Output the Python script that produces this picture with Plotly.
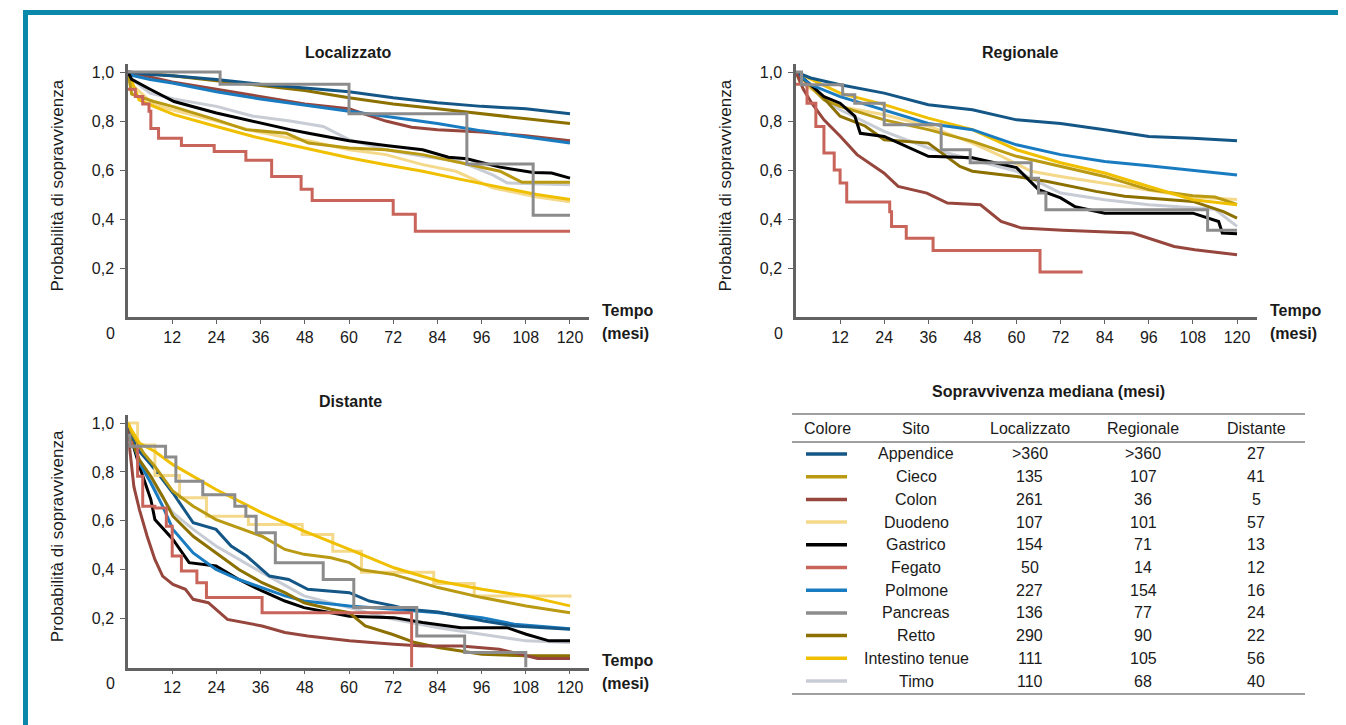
import plotly.graph_objects as go

# Page body adds an 8px margin; figure is sized so it fills the window exactly.
OFF = 8
W, H = 1346 - OFF, 725 - OFF

# ---------------- DATA ----------------
x_tick_vals = [12, 24, 36, 48, 60, 72, 84, 96, 108, 120]
x_tick_labels = ["12", "24", "36", "48", "60", "72", "84", "96", "108", "120"]
y_tick_vals = [0.2, 0.4, 0.6, 0.8, 1.0]
y_tick_labels = ["0,2", "0,4", "0,6", "0,8", "1,0"]

panel_titles = ["Localizzato", "Regionale", "Distante"]

sites = ["Appendice", "Cieco", "Colon", "Duodeno", "Gastrico", "Fegato",
         "Polmone", "Pancreas", "Retto", "Intestino tenue", "Timo"]
median_localizzato = [">360", "135", "261", "107", "154", "50", "227", "136", "290", "111", "110"]
median_regionale = [">360", "107", "36", "101", "71", "14", "154", "77", "90", "105", "68"]
median_distante = ["27", "41", "5", "57", "13", "12", "16", "24", "22", "56", "40"]

# Localizzato
loc_appendice_t = [0, 6, 12, 24, 36, 48, 60, 72, 84, 96, 108, 120]
loc_appendice_s = [1.0, 0.99, 0.985, 0.97, 0.95, 0.935, 0.92, 0.895, 0.875, 0.86, 0.85, 0.83]
loc_cieco_t = [0, 1, 7, 12, 24, 32, 43, 49, 60, 70, 80, 90, 101, 107, 120]
loc_cieco_s = [1.0, 0.91, 0.88, 0.86, 0.805, 0.765, 0.75, 0.71, 0.69, 0.683, 0.663, 0.63, 0.595, 0.55, 0.55]
loc_colon_t = [0, 12, 24, 36, 48, 60, 64, 70, 77, 84, 96, 108, 120]
loc_colon_s = [1.0, 0.96, 0.93, 0.9, 0.87, 0.85, 0.83, 0.80, 0.775, 0.765, 0.755, 0.74, 0.72]
loc_duodeno_t = [0, 1, 7, 12, 24, 34, 44, 49, 60, 70, 80, 89, 99, 111, 120]
loc_duodeno_s = [1.0, 0.95, 0.867, 0.846, 0.80, 0.76, 0.73, 0.72, 0.683, 0.663, 0.622, 0.595, 0.527, 0.49, 0.47]
loc_gastrico_t = [0, 1, 6, 12.5, 24, 32, 44, 49, 60, 70, 80, 87, 92, 101, 110, 115, 120]
loc_gastrico_s = [1.0, 0.97, 0.93, 0.88, 0.833, 0.805, 0.765, 0.75, 0.72, 0.70, 0.683, 0.652, 0.646, 0.612, 0.59, 0.588, 0.567]
loc_fegato_t = [0, 2, 4, 5.7, 6.2, 8.3, 14.5, 23.4, 32, 39, 47, 50, 72, 78, 120]
loc_fegato_s = [0.93, 0.9, 0.87, 0.84, 0.77, 0.73, 0.70, 0.676, 0.64, 0.574, 0.522, 0.476, 0.42, 0.35, 0.35]
loc_polmone_t = [0, 6, 12, 24, 36, 48, 60, 72, 84, 96, 108, 120]
loc_polmone_s = [0.99, 0.97, 0.955, 0.92, 0.89, 0.865, 0.84, 0.815, 0.79, 0.76, 0.735, 0.71]
loc_pancreas_t = [0, 25, 60, 92, 110, 120]
loc_pancreas_s = [1.0, 0.95, 0.83, 0.625, 0.415, 0.415]
loc_retto_t = [0, 12, 24, 36, 48, 60, 72, 84, 96, 108, 120]
loc_retto_s = [1.0, 0.985, 0.965, 0.945, 0.925, 0.895, 0.87, 0.85, 0.83, 0.81, 0.79]
loc_intestino_t = [0, 1, 3, 7, 12.5, 24, 34, 44, 54, 60, 70, 80, 90, 101, 111, 120]
loc_intestino_s = [1.0, 0.96, 0.887, 0.86, 0.826, 0.778, 0.737, 0.703, 0.67, 0.65, 0.622, 0.595, 0.563, 0.53, 0.50, 0.48]
loc_timo_t = [0, 1, 6, 12.5, 24, 34, 44, 53, 60, 70, 80, 90, 99, 103, 120]
loc_timo_s = [1.0, 0.97, 0.914, 0.89, 0.86, 0.82, 0.80, 0.778, 0.724, 0.683, 0.656, 0.635, 0.58, 0.547, 0.54]

# Regionale
reg_appendice_t = [0, 4, 12, 24, 36, 48, 60, 72, 84, 96, 108, 120]
reg_appendice_s = [1.0, 0.976, 0.948, 0.914, 0.867, 0.846, 0.805, 0.79, 0.765, 0.737, 0.73, 0.72]
reg_cieco_t = [0, 7.6, 12, 24, 36, 48, 60, 72, 84, 96, 108, 114, 120]
reg_cieco_s = [1.0, 0.887, 0.86, 0.805, 0.765, 0.717, 0.656, 0.615, 0.574, 0.52, 0.495, 0.49, 0.46]
reg_colon_t = [0, 2, 4.3, 7.6, 12.1, 16.6, 23.9, 27.8, 35.6, 41.2, 50.2, 55.8, 61.4, 72.6, 91.6, 102.9, 108.5, 120]
reg_colon_s = [1.0, 0.93, 0.873, 0.805, 0.737, 0.663, 0.588, 0.533, 0.506, 0.465, 0.458, 0.39, 0.363, 0.354, 0.343, 0.288, 0.275, 0.254]
reg_duodeno_t = [0, 1, 12, 24, 36, 48, 56, 64, 72, 84, 96, 108, 120]
reg_duodeno_s = [1.0, 0.96, 0.86, 0.826, 0.78, 0.71, 0.656, 0.595, 0.574, 0.547, 0.52, 0.49, 0.48]
reg_gastrico_t = [0, 7.6, 12, 16, 17.5, 24, 36, 48, 60, 66, 72, 76, 84, 108, 115, 116, 120]
reg_gastrico_s = [1.0, 0.90, 0.873, 0.82, 0.75, 0.737, 0.656, 0.65, 0.61, 0.52, 0.486, 0.45, 0.424, 0.424, 0.39, 0.343, 0.34]
reg_fegato_t = [0, 3, 5.4, 7.6, 10.4, 12, 13.8, 25.5, 26, 30, 37.3, 66.4, 78]
reg_fegato_s = [0.95, 0.873, 0.778, 0.67, 0.60, 0.547, 0.47, 0.43, 0.37, 0.322, 0.272, 0.184, 0.184]
reg_polmone_t = [0, 4, 12, 24, 36, 48, 60, 72, 84, 96, 108, 120]
reg_polmone_s = [1.0, 0.948, 0.90, 0.845, 0.79, 0.765, 0.703, 0.663, 0.635, 0.618, 0.60, 0.58]
reg_pancreas_t = [0, 1.5, 12.7, 16, 24, 39.5, 47.4, 64, 66, 68, 112, 120]
reg_pancreas_s = [1.0, 0.948, 0.907, 0.873, 0.785, 0.683, 0.63, 0.567, 0.506, 0.438, 0.354, 0.354]
reg_retto_t = [0, 5.4, 12, 18.8, 24, 36, 44.6, 48, 60, 68.1, 81.6, 89.4, 108, 116.3, 120]
reg_retto_s = [1.0, 0.93, 0.82, 0.78, 0.724, 0.71, 0.615, 0.595, 0.574, 0.554, 0.513, 0.493, 0.472, 0.43, 0.404]
reg_intestino_t = [0, 12, 24, 36, 48, 60, 72, 84, 96, 108, 120]
reg_intestino_s = [1.0, 0.914, 0.867, 0.812, 0.765, 0.683, 0.63, 0.588, 0.533, 0.479, 0.458]
reg_timo_t = [0, 7.6, 12, 24, 36, 48, 60, 72, 84, 96, 108, 114, 120]
reg_timo_s = [1.0, 0.887, 0.846, 0.758, 0.69, 0.642, 0.595, 0.506, 0.479, 0.458, 0.445, 0.44, 0.37]

# Distante
dis_appendice_t = [0, 1, 3.1, 6.2, 9.4, 12.2, 17.7, 23.9, 28, 32.2, 38.4, 43.6, 48.8, 60.1, 65.5, 72.2, 75.8, 84.2, 96.6, 104.9, 120]
dis_appendice_s = [1.0, 0.95, 0.884, 0.83, 0.769, 0.714, 0.592, 0.565, 0.497, 0.456, 0.374, 0.36, 0.32, 0.306, 0.272, 0.252, 0.238, 0.227, 0.19, 0.17, 0.156]
dis_cieco_t = [0, 1, 4.2, 7.3, 12.2, 17.7, 23.9, 36.4, 42.6, 47.8, 55.1, 60.1, 63.4, 72.2, 84.2, 96.1, 108.1, 120]
dis_cieco_s = [1.0, 0.96, 0.878, 0.823, 0.721, 0.66, 0.605, 0.537, 0.483, 0.463, 0.449, 0.429, 0.40, 0.38, 0.327, 0.286, 0.252, 0.224]
dis_colon_t = [0, 0.5, 1.6, 3.1, 5.2, 7.3, 9.4, 12.2, 15.6, 17.7, 21.8, 27, 36.4, 42.6, 48.8, 60.1, 72.2, 80, 90.4, 100.8, 111.2, 120]
dis_colon_s = [1.0, 0.89, 0.74, 0.646, 0.537, 0.442, 0.374, 0.34, 0.32, 0.279, 0.265, 0.197, 0.17, 0.143, 0.129, 0.109, 0.095, 0.088, 0.088, 0.075, 0.037, 0.037]
dis_duodeno_t = [0, 2.6, 7.3, 14, 21.3, 32.7, 47.3, 55.6, 63.4, 83, 94, 120]
dis_duodeno_s = [1.0, 0.91, 0.785, 0.694, 0.619, 0.585, 0.544, 0.476, 0.39, 0.344, 0.293, 0.285]
dis_gastrico_t = [0, 1, 3.1, 6.2, 7.3, 12.2, 16.6, 23.9, 30.1, 36.4, 42.6, 47.8, 60.1, 72.2, 80, 90.4, 102.9, 108.1, 114.3, 120]
dis_gastrico_s = [1.0, 0.93, 0.823, 0.687, 0.605, 0.524, 0.429, 0.415, 0.36, 0.313, 0.272, 0.245, 0.21, 0.204, 0.184, 0.163, 0.163, 0.136, 0.109, 0.109]
dis_fegato_t = [0, 1, 2.6, 4, 7.3, 10.4, 12, 14.5, 18.7, 21.3, 36.4, 77]
dis_fegato_s = [0.92, 0.905, 0.782, 0.66, 0.653, 0.578, 0.456, 0.395, 0.347, 0.286, 0.224, 0.0]
dis_polmone_t = [0, 1, 3.1, 6.2, 9.4, 12.2, 17.7, 23.9, 30.1, 36.4, 42.6, 47.8, 60.1, 72.2, 84.2, 96.1, 104.9, 120]
dis_polmone_s = [1.0, 0.94, 0.837, 0.755, 0.66, 0.565, 0.469, 0.401, 0.36, 0.327, 0.293, 0.272, 0.252, 0.238, 0.224, 0.204, 0.177, 0.159]
dis_pancreas_t = [0, 0.5, 10.2, 13, 20.3, 29, 32, 34.8, 40, 53, 61.3, 78.4, 91.4, 108]
dis_pancreas_s = [0.95, 0.905, 0.861, 0.762, 0.707, 0.66, 0.619, 0.551, 0.429, 0.36, 0.245, 0.129, 0.061, 0.0]
dis_retto_t = [0, 1, 3.1, 6.2, 9.4, 12.2, 17.7, 23.9, 30.1, 36.4, 42.6, 47.8, 55.1, 60.1, 64.4, 71.7, 77.9, 84.2, 96.1, 108.1, 120]
dis_retto_s = [1.0, 0.93, 0.85, 0.782, 0.70, 0.619, 0.537, 0.469, 0.401, 0.347, 0.306, 0.265, 0.238, 0.224, 0.17, 0.136, 0.102, 0.082, 0.054, 0.048, 0.048]
dis_intestino_t = [0, 1, 3.1, 7.3, 12.2, 23.9, 36.4, 47.8, 60.1, 72.2, 84.2, 96.1, 108.1, 120]
dis_intestino_s = [1.0, 0.97, 0.918, 0.884, 0.83, 0.728, 0.633, 0.558, 0.483, 0.408, 0.354, 0.32, 0.293, 0.252]
dis_timo_t = [0, 1, 3.1, 7.3, 12.2, 17.7, 23.9, 36.4, 47.8, 60.1, 72.2, 84.2, 96.1, 108.1, 120]
dis_timo_s = [1.0, 0.95, 0.837, 0.741, 0.633, 0.565, 0.497, 0.388, 0.293, 0.245, 0.197, 0.163, 0.136, 0.109, 0.102]

# ---------------- STYLE ----------------
colors = {
    "Appendice": "#145787", "Cieco": "#b99a12", "Colon": "#96463c",
    "Duodeno": "#f5d98a", "Gastrico": "#000000", "Fegato": "#c8645a",
    "Polmone": "#1a7cc0", "Pancreas": "#8c8c8c", "Retto": "#8c7000",
    "Intestino tenue": "#f0c000", "Timo": "#c8ccd4",
}
FONT = "Liberation Sans, Arial, sans-serif"
TXT = "#1a1a1a"
AX = "#626262"
BORDER = "#0c88ab"


def PX(x):
    """window pixel x -> paper fraction"""
    return (x - OFF) / W


def PY(y):
    """window pixel y -> paper fraction"""
    return 1 - (y - OFF) / H


panels = [
    # (axis suffix, x0px, xendpx, xrange max, y0px, ytop px, series)
    ("", 128, 589, 125.16, 317, 64, [
        ("Timo", loc_timo_t, loc_timo_s, "linear"),
        ("Duodeno", loc_duodeno_t, loc_duodeno_s, "linear"),
        ("Intestino tenue", loc_intestino_t, loc_intestino_s, "linear"),
        ("Cieco", loc_cieco_t, loc_cieco_s, "linear"),
        ("Colon", loc_colon_t, loc_colon_s, "linear"),
        ("Polmone", loc_polmone_t, loc_polmone_s, "linear"),
        ("Retto", loc_retto_t, loc_retto_s, "linear"),
        ("Appendice", loc_appendice_t, loc_appendice_s, "linear"),
        ("Gastrico", loc_gastrico_t, loc_gastrico_s, "linear"),
        ("Fegato", loc_fegato_t, loc_fegato_s, "hv"),
        ("Pancreas", loc_pancreas_t, loc_pancreas_s, "hv"),
    ]),
    ("2", 796, 1257, 125.44, 317, 64, [
        ("Timo", reg_timo_t, reg_timo_s, "linear"),
        ("Duodeno", reg_duodeno_t, reg_duodeno_s, "linear"),
        ("Cieco", reg_cieco_t, reg_cieco_s, "linear"),
        ("Retto", reg_retto_t, reg_retto_s, "linear"),
        ("Gastrico", reg_gastrico_t, reg_gastrico_s, "linear"),
        ("Intestino tenue", reg_intestino_t, reg_intestino_s, "linear"),
        ("Polmone", reg_polmone_t, reg_polmone_s, "linear"),
        ("Appendice", reg_appendice_t, reg_appendice_s, "linear"),
        ("Colon", reg_colon_t, reg_colon_s, "linear"),
        ("Fegato", reg_fegato_t, reg_fegato_s, "hv"),
        ("Pancreas", reg_pancreas_t, reg_pancreas_s, "hv"),
    ]),
    ("3", 128, 589, 125.16, 667.5, 415, [
        ("Timo", dis_timo_t, dis_timo_s, "linear"),
        ("Gastrico", dis_gastrico_t, dis_gastrico_s, "linear"),
        ("Polmone", dis_polmone_t, dis_polmone_s, "linear"),
        ("Retto", dis_retto_t, dis_retto_s, "linear"),
        ("Colon", dis_colon_t, dis_colon_s, "linear"),
        ("Appendice", dis_appendice_t, dis_appendice_s, "linear"),
        ("Duodeno", dis_duodeno_t, dis_duodeno_s, "hv"),
        ("Cieco", dis_cieco_t, dis_cieco_s, "linear"),
        ("Intestino tenue", dis_intestino_t, dis_intestino_s, "linear"),
        ("Fegato", dis_fegato_t, dis_fegato_s, "hv"),
        ("Pancreas", dis_pancreas_t, dis_pancreas_s, "hv"),
    ]),
]

fig = go.Figure()
annotations = []
shapes = []

for suffix, x0, x1, xmax, y0, y1, series in panels:
    xa = "x" + suffix
    ya = "y" + suffix
    for name, t, s, shape in series:
        fig.add_trace(go.Scatter(
            x=t, y=s, mode="lines", name=name, showlegend=False,
            line=dict(color=colors[name], width=3, shape=shape),
            xaxis=xa, yaxis=ya, hoverinfo="skip",
        ))
    fig.layout["xaxis" + suffix] = dict(
        domain=[PX(x0), PX(x1)], range=[0, xmax], anchor=ya,
        showline=True, linecolor=AX, linewidth=2.5,
        ticks="outside", ticklen=4, tickwidth=1, tickcolor=AX,
        tickvals=x_tick_vals, ticktext=x_tick_labels,
        tickfont=dict(size=16, color=TXT, family=FONT),
        showgrid=False, zeroline=False, fixedrange=True,
    )
    fig.layout["yaxis" + suffix] = dict(
        domain=[PY(y0), PY(y1)], range=[0, 1.033], anchor=xa,
        showline=True, linecolor=AX, linewidth=2.5,
        ticks="outside", ticklen=5, tickwidth=1, tickcolor=AX,
        tickvals=y_tick_vals, ticktext=y_tick_labels,
        tickfont=dict(size=16, color=TXT, family=FONT),
        ticklabelstandoff=3,
        showgrid=False, zeroline=False, fixedrange=True,
    )
    annotations.append(dict(x=PX(x0 - 18), y=PY(y0 + 16), xref="paper", yref="paper",
                            text="0", showarrow=False, xanchor="center", yanchor="middle",
                            font=dict(size=16, color=TXT, family=FONT)))
    annotations.append(dict(x=PX(x1 + 11), y=PY(y0 - 7), xref="paper", yref="paper",
                            text="<b>Tempo</b>", showarrow=False, xanchor="left", yanchor="middle",
                            font=dict(size=16, color=TXT, family=FONT)))
    annotations.append(dict(x=PX(x1 + 11), y=PY(y0 + 16), xref="paper", yref="paper",
                            text="<b>(mesi)</b>", showarrow=False, xanchor="left", yanchor="middle",
                            font=dict(size=16, color=TXT, family=FONT)))
    annotations.append(dict(x=PX(x0 - 71), y=PY((y0 + y1) / 2 - 5), xref="paper", yref="paper",
                            text="Probabilità di sopravvivenza", textangle=-90, showarrow=False,
                            xanchor="center", yanchor="middle",
                            font=dict(size=17, color=TXT, family=FONT)))

for title, (tx, ty) in zip(panel_titles, [(348, 52), (1020, 52), (350, 401)]):
    annotations.append(dict(x=PX(tx), y=PY(ty), xref="paper", yref="paper",
                            text="<b>" + title + "</b>", showarrow=False,
                            xanchor="center", yanchor="middle",
                            font=dict(size=16, color=TXT, family=FONT)))

# ---------------- TABLE ----------------
annotations.append(dict(x=PX(1048), y=PY(392), xref="paper", yref="paper",
                        text="<b>Sopravvivenza mediana (mesi)</b>", showarrow=False,
                        xanchor="center", yanchor="middle",
                        font=dict(size=16, color=TXT, family=FONT)))
for yl in (414, 442, 694):
    shapes.append(dict(type="line", xref="paper", yref="paper",
                       x0=PX(792), x1=PX(1305), y0=PY(yl), y1=PY(yl),
                       line=dict(color="#808080", width=1.5)))
col_x = [827, 916, 1030, 1143, 1256]
headers = ["Colore", "Sito", "Localizzato", "Regionale", "Distante"]
for cx, htxt in zip(col_x, headers):
    annotations.append(dict(x=PX(cx), y=PY(428), xref="paper", yref="paper",
                            text=htxt, showarrow=False, xanchor="center", yanchor="middle",
                            font=dict(size=16, color=TXT, family=FONT)))
for i, site in enumerate(sites):
    ry = 454 + i * 22.7
    shapes.append(dict(type="line", xref="paper", yref="paper",
                       x0=PX(806), x1=PX(847), y0=PY(ry), y1=PY(ry),
                       line=dict(color=colors[site], width=3.5)))
    for cx, val in zip(col_x[1:], [site, median_localizzato[i], median_regionale[i], median_distante[i]]):
        annotations.append(dict(x=PX(cx), y=PY(ry), xref="paper", yref="paper",
                                text=val, showarrow=False, xanchor="center", yanchor="middle",
                                font=dict(size=16, color=TXT, family=FONT)))

# frame border (top and left)
shapes.append(dict(type="line", xref="paper", yref="paper",
                   x0=PX(23), x1=1.0, y0=PY(12.5), y1=PY(12.5),
                   line=dict(color=BORDER, width=5)))
shapes.append(dict(type="line", xref="paper", yref="paper",
                   x0=PX(25.5), x1=PX(25.5), y0=PY(10), y1=0.0,
                   line=dict(color=BORDER, width=5)))

fig.update_layout(
    width=W, height=H, autosize=False,
    margin=dict(l=0, r=0, t=0, b=0, pad=0),
    paper_bgcolor="white", plot_bgcolor="white",
    font=dict(family=FONT, color=TXT, size=16),
    annotations=annotations, shapes=shapes,
    showlegend=False,
)

fig.write_html("out.html")
